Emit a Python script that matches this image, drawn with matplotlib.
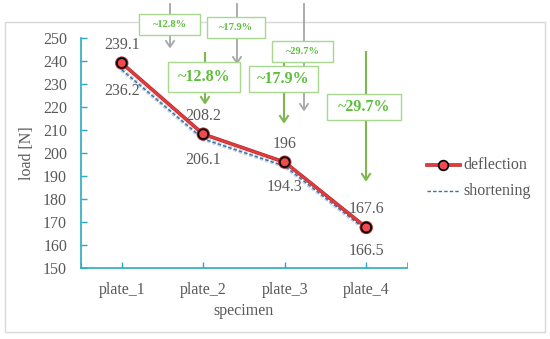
import matplotlib
matplotlib.use("Agg")
import matplotlib.pyplot as plt
import matplotlib.patheffects as pe
from matplotlib.patches import Rectangle

# data
specimens = ["plate_1", "plate_2", "plate_3", "plate_4"]
deflection = [239.1, 208.2, 196, 167.6]
shortening = [236.2, 206.1, 194.3, 166.5]
drop_labels = ["~12.8%", "~17.9%", "~29.7%"]
series_names = ["deflection", "shortening"]

W, H = 550, 339
TXT = "#595959"
AXC = "#2AAAC2"
GREEN_TXT = "#5CBF3A"
GREEN_LINE = "#7DB84E"
GREEN_BOX = "#A8D890"
GRAY_ARROW = "#A6A6A6"

plt.rcParams["font.family"] = ["Liberation Serif", "DejaVu Serif"]

fig = plt.figure(figsize=(W / 100, H / 100), dpi=100)


def fx(x):
    return x / W


def fy(y):
    # pixel from top -> figure fraction
    return 1 - y / H


# outer frame
fig.add_artist(Rectangle((fx(5), fy(332)), fx(540), (332 - 22) / H,
                         transform=fig.transFigure, fill=False,
                         edgecolor="#D9D9D9", linewidth=1, zorder=0))

ax = fig.add_axes([fx(81), fy(268), fx(407 - 81), (268 - 38) / H])
x = list(range(len(specimens)))

short_style = dict(color="#2E75B6", linestyle=(0, (2.5, 1.5)), linewidth=1)
short_fx = [pe.Stroke(linewidth=3.2, foreground="#CDD3DA"), pe.Normal()]
defl_style = dict(color="#E8383D", linewidth=1.7, markersize=7,
                  markerfacecolor="#F04A50", markeredgecolor="black",
                  markeredgewidth=1.2)
defl_fx = [pe.Stroke(linewidth=2.6, foreground="#A83030"), pe.Normal()]

ax.plot(x, shortening, zorder=3, path_effects=short_fx, **short_style)
ax.plot(x, deflection, marker="o", zorder=4, path_effects=defl_fx, **defl_style)

for i in x:
    ax.annotate(f"{deflection[i]:g}", (i, deflection[i]), xytext=(0, 13),
                textcoords="offset points", ha="center", va="center",
                fontsize=11.5, color=TXT, zorder=5)
    ax.annotate(f"{shortening[i]:g}", (i, shortening[i]), xytext=(0, -15),
                textcoords="offset points", ha="center", va="center",
                fontsize=11.5, color=TXT, zorder=5)

ax.set_xlim(-0.5, 3.5)
ax.set_ylim(150, 250)
ax.set_yticks(range(150, 251, 10))
ax.set_xticks(x)
ax.set_xticklabels(specimens)
ax.set_xticks([-0.5, 3.5], minor=True)
ax.tick_params(axis="both", colors=AXC, labelcolor=TXT, labelsize=11.5,
               direction="in", length=4, width=1)
ax.tick_params(axis="x", which="minor", colors=AXC, direction="in", length=4)
ax.tick_params(axis="x", pad=10)
ax.tick_params(axis="y", pad=10)
for s in ["top", "right"]:
    ax.spines[s].set_visible(False)
for s in ["left", "bottom"]:
    ax.spines[s].set_color(AXC)
    ax.spines[s].set_linewidth(1.2)
ax.set_xlabel("specimen", fontsize=11.5, color=TXT, labelpad=4)
ax.set_ylabel("load [N]", fontsize=11.5, color=TXT, labelpad=6)

# legend, drawn by hand to sit where the reference puts it
leg_y = [165, 191]
fig.add_artist(plt.Line2D([fx(427), fx(460)], [fy(leg_y[0])] * 2,
                          transform=fig.transFigure, path_effects=defl_fx,
                          **defl_style))
fig.add_artist(plt.Line2D([fx(443)], [fy(leg_y[0])], transform=fig.transFigure,
                          marker="o", linestyle="none",
                          **{k: v for k, v in defl_style.items()
                             if k != "linewidth"}))
fig.add_artist(plt.Line2D([fx(427), fx(460)], [fy(leg_y[1])] * 2,
                          transform=fig.transFigure, **short_style))
for name, yp in zip(series_names, leg_y):
    fig.text(fx(463), fy(yp), name, ha="left", va="center", fontsize=11.5,
             color=TXT)


# overlay annotations (pixel positions from top-left)
def arrow(xp, y0, y1, color, lw):
    fig.add_artist(plt.Line2D([fx(xp), fx(xp)], [fy(y0), fy(y1) + 0.002],
                              transform=fig.transFigure, color=color,
                              linewidth=lw, zorder=6))
    fig.add_artist(plt.Line2D([fx(xp - 4), fx(xp), fx(xp + 4)],
                              [fy(y1 - 6), fy(y1), fy(y1 - 6)],
                              transform=fig.transFigure, color=color,
                              linewidth=lw, zorder=6))


def box(x0, y0, x1, y1, text, size):
    fig.add_artist(Rectangle((fx(x0), fy(y1)), fx(x1 - x0), (y1 - y0) / H,
                             transform=fig.transFigure, facecolor="white",
                             edgecolor=GREEN_BOX, linewidth=1, zorder=7))
    fig.text(fx((x0 + x1) / 2), fy((y0 + y1) / 2), text, ha="center",
             va="center", color=GREEN_TXT, fontsize=size, fontweight="bold",
             zorder=8)


gray_x = [170, 237, 304]
gray_tip = [47, 63, 110]
for gx, gt in zip(gray_x, gray_tip):
    arrow(gx, 4, gt, GRAY_ARROW, 1.3)

small_boxes = [(139, 14, 200, 35), (207, 17, 265, 38), (272, 41, 333, 62)]
for b, lab in zip(small_boxes, drop_labels):
    box(*b, lab, 7.5)

green_x = [205, 284, 366]
green_top = [53, 62, 52]
green_tip = [103, 122, 180]
for gx, gt0, gt in zip(green_x, green_top, green_tip):
    arrow(gx, gt0, gt, GREEN_LINE, 1.5)

big_boxes = [(168, 62, 240, 92), (249, 66, 318, 92), (327, 94, 401, 120)]
for b, lab in zip(big_boxes, drop_labels):
    box(*b, lab, 11.5)

fig.savefig("out.png", dpi=100)
